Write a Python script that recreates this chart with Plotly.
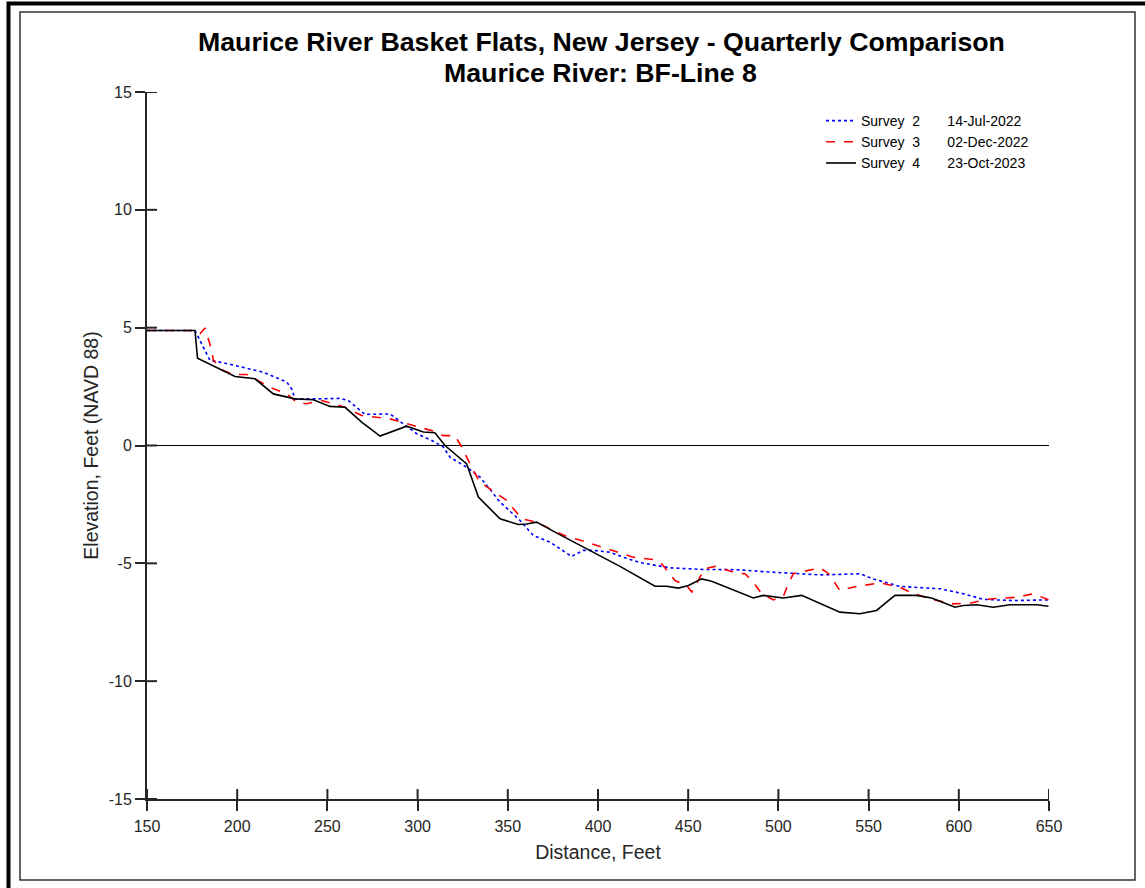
import plotly.graph_objects as go

# ---------------- data ----------------
s2_x = [150, 176.6, 184.9, 192.3, 214.5, 227.5, 230.2, 232, 245, 257, 261.6, 270.8, 284.7, 292.1,
        299.5, 308.7, 314.3, 318, 327.2, 334.6, 345.7, 356.8, 364.1, 373.4, 385.4, 391.8, 397.4,
        406.7, 414, 423.3, 439.9, 458.3, 476.9, 495.3, 508.3, 523.1, 534.1, 545.2, 552.5, 567.4,
        589.6, 602.5, 613.6, 630.2, 649.7]
s2_y = [4.88, 4.88, 3.61, 3.51, 3.11, 2.69, 2.40, 1.98, 1.98, 2.0, 1.91, 1.32, 1.34, 0.92,
        0.50, 0.18, -0.07, -0.50, -0.92, -1.34, -2.40, -3.18, -3.82, -4.10, -4.71, -4.45, -4.45,
        -4.53, -4.74, -4.97, -5.19, -5.26, -5.27, -5.37, -5.44, -5.49, -5.47, -5.44, -5.66, -5.98,
        -6.08, -6.29, -6.53, -6.58, -6.55]

s3_x = [150, 176.6, 179.4, 182.2, 185.9, 186.8, 192.3, 197.9, 205.3, 209.9, 218.2, 227.5, 232.9,
        238.5, 246.8, 259.8, 269, 284.7, 297.6, 308.7, 314.3, 320.7, 324.5, 330.9, 334.6, 340.1,
        349.4, 357.7, 366, 375.2, 382.6, 393.7, 404.8, 414, 419.6, 430.7, 435.3, 442.7, 449.2, 452,
        456.5, 459.3, 464.9, 471.3, 476.9, 481.5, 486.1, 490.7, 497.2, 502.7, 505.5, 508.3, 515.7,
        523.1, 527.8, 534.1, 543.3, 556.2, 567.4, 572.9, 584, 596.9, 606.2, 617.3, 632.1, 641.3,
        649.7]
s3_y = [4.88, 4.88, 4.74, 4.99, 4.03, 3.61, 3.18, 3.01, 3.01, 2.83, 2.47, 2.19, 1.84,
        1.77, 1.91, 1.62, 1.27, 1.13, 0.85, 0.61, 0.42, 0.42, -0.07, -1.06, -1.56, -1.84,
        -2.33, -3.11, -3.25, -3.61, -3.86, -4.10, -4.39, -4.60, -4.74, -4.84, -5.02, -5.73, -5.94, -6.22,
        -5.59, -5.23, -5.13, -5.30, -5.42, -5.44, -5.80, -6.29, -6.55, -6.41, -5.87, -5.44, -5.33,
        -5.19, -5.44, -6.15, -5.98, -5.83, -6.01, -6.22, -6.51, -6.72, -6.69, -6.51, -6.44, -6.29,
        -6.55]

s4_x = [150, 176.6, 178, 198.8, 209.9, 220, 232, 242.2, 251.4, 259.8, 269, 279.2, 293.9, 303.2,
        309.6, 315.2, 327.2, 333.7, 345.7, 355.8, 360.4, 366, 378, 412.2, 431.6, 438.1, 444.5,
        450.1, 457.5, 463, 486.1, 491.6, 502.7, 512.9, 534.1, 545.2, 554.4, 564.6, 576.6, 584.9,
        597.9, 602.5, 609.9, 619.1, 628.4, 643.2, 649.7]
s4_y = [4.88, 4.88, 3.7, 2.93, 2.83, 2.19, 1.98, 1.94, 1.66, 1.62, 0.99, 0.40, 0.82, 0.57,
        0.54, 0.0, -0.78, -2.19, -3.11, -3.35, -3.33, -3.25, -3.75, -5.13, -5.97, -5.97, -6.05,
        -5.94, -5.66, -5.76, -6.47, -6.36, -6.47, -6.36, -7.07, -7.14, -7.0, -6.36, -6.36, -6.47,
        -6.86, -6.79, -6.76, -6.86, -6.76, -6.76, -6.82]

NB = "\u00a0"
series_names = ["Survey" + NB * 2 + "2" + NB * 7 + "14-Jul-2022",
                "Survey" + NB * 2 + "3" + NB * 7 + "02-Dec-2022",
                "Survey" + NB * 2 + "4" + NB * 7 + "23-Oct-2023"]

x_ticks = [150, 200, 250, 300, 350, 400, 450, 500, 550, 600, 650]
x_tick_text = ["150", "200", "250", "300", "350", "400", "450", "500", "550", "600", "650"]
y_ticks = [-15, -10, -5, 0, 5, 10, 15]
y_tick_text = ["-15", "-10", "-5", "0", "5", "10", "15"]
x_range = [150, 650]
y_range = [-15, 15]

title_line1 = "Maurice River Basket Flats, New Jersey - Quarterly Comparison"
title_line2 = "Maurice River: BF-Line 8"

# ---------------- figure ----------------
W, H = 1145, 888
L, R, T, B = 147, 96, 92, 89
PW, PH = W - L - R, H - T - B
TICK_LEN = 10
AXIS_COLOR = "#262626"

fig = go.Figure()
fig.add_trace(go.Scatter(x=s2_x, y=s2_y, mode="lines", name=series_names[0],
                         line=dict(color="#0000FF", width=1.6, dash="dot")))
fig.add_trace(go.Scatter(x=s3_x, y=s3_y, mode="lines", name=series_names[1],
                         line=dict(color="#FF0000", width=1.6, dash="dash")))
fig.add_trace(go.Scatter(x=s4_x, y=s4_y, mode="lines", name=series_names[2],
                         line=dict(color="#000000", width=1.6)))

font_family = "Liberation Sans, Arial, sans-serif"
axis_common = dict(showgrid=False, showline=True, linecolor=AXIS_COLOR, linewidth=2,
                   ticks="outside", ticklen=TICK_LEN, tickwidth=2, tickcolor=AXIS_COLOR,
                   tickfont=dict(size=16, color=AXIS_COLOR, family=font_family))


def px2paper_x(px):
    return (px - L) / PW


def px2paper_y(py):
    return (H - B - py) / PH


fig.update_layout(
    width=W, height=H, autosize=False,
    margin=dict(l=L, r=R, t=T, b=B),
    paper_bgcolor="white", plot_bgcolor="white",
    font=dict(family=font_family, color="#000000"),
    xaxis=dict(range=x_range, tickvals=x_ticks, ticktext=x_tick_text, zeroline=False,
               ticklabelstandoff=2,
               title=dict(text="Distance, Feet", font=dict(size=19.5, color=AXIS_COLOR), standoff=11),
               **axis_common),
    yaxis=dict(range=y_range, tickvals=y_ticks, ticktext=y_tick_text,
               zeroline=True, zerolinecolor="#000000", zerolinewidth=1,
               title=dict(text="Elevation, Feet (NAVD 88)", font=dict(size=19.5, color=AXIS_COLOR), standoff=5),
               **axis_common),
    legend=dict(x=px2paper_x(821), y=px2paper_y(105), xanchor="left", yanchor="top",
                bgcolor="rgba(0,0,0,0)", borderwidth=0, tracegroupgap=0,
                font=dict(size=14, color="#000000", family=font_family)),
    showlegend=True,
)

# inner half of each tick mark (ticks cross the axis line in the original)
for v in x_ticks:
    fig.add_shape(type="line", xref="x", yref="paper", x0=v, x1=v, y0=0, y1=TICK_LEN / PH,
                  line=dict(color=AXIS_COLOR, width=2), layer="above")
for v in y_ticks:
    fig.add_shape(type="line", xref="paper", yref="y", x0=0, x1=TICK_LEN / PW, y0=v, y1=v,
                  line=dict(color=AXIS_COLOR, width=2), layer="above")

fig.add_annotation(text="<b>" + title_line1 + "</b>", xref="paper", yref="paper",
                   x=px2paper_x(601), y=px2paper_y(42), xanchor="center", yanchor="middle",
                   showarrow=False, font=dict(size=26.7, color="#000000", family=font_family))
fig.add_annotation(text="<b>" + title_line2 + "</b>", xref="paper", yref="paper",
                   x=px2paper_x(600), y=px2paper_y(73), xanchor="center", yanchor="middle",
                   showarrow=False, font=dict(size=26.7, color="#000000", family=font_family))

# figure frame (outer thick border and inner thin border)
fig.add_shape(type="rect", xref="paper", yref="paper",
              x0=px2paper_x(8.5), x1=px2paper_x(1160), y0=px2paper_y(900), y1=px2paper_y(3.5),
              line=dict(color="#000000", width=4), fillcolor="rgba(0,0,0,0)", layer="below")
fig.add_shape(type="rect", xref="paper", yref="paper",
              x0=px2paper_x(20), x1=px2paper_x(1135), y0=px2paper_y(880), y1=px2paper_y(12),
              line=dict(color="#333333", width=1.5), fillcolor="rgba(0,0,0,0)", layer="below")

fig.write_html("out.html")
